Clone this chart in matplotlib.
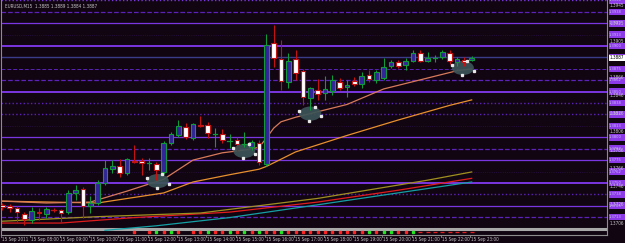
import matplotlib
matplotlib.use("Agg")
import matplotlib.pyplot as plt
import matplotlib.transforms as mtransforms
from matplotlib.patches import Rectangle, Ellipse

# ---- data (EURUSD M15, 15 Sep 2011) ----
symbol = "EURUSD,M15"
first_bar = -2          # bar index of the left-most candle (07:00)

bar_open = [1.3726, 1.3725, 1.3723, 1.3716, 1.3709, 1.3718, 1.3716, 1.3720, 1.3720, 1.3718,
            1.3739, 1.3743, 1.3725, 1.3728, 1.3750, 1.3765, 1.3768, 1.3761, 1.3774, 1.3774,
            1.3772, 1.3771, 1.3762, 1.3794, 1.3803, 1.3811, 1.3799, 1.3814, 1.3814, 1.3804,
            1.3804, 1.3796, 1.3797, 1.3793, 1.3789, 1.3794, 1.3771, 1.3903, 1.3886, 1.3861,
            1.3886, 1.3873, 1.3843, 1.3852, 1.3849, 1.3851, 1.3861, 1.3855, 1.3862, 1.3858,
            1.3868, 1.3863, 1.3865, 1.3878, 1.3883, 1.3879, 1.3884, 1.3892, 1.3884, 1.3887,
            1.3888, 1.3892, 1.3883, 1.3885, 1.3885]
bar_high = [1.3728, 1.3727, 1.3725, 1.3718, 1.3724, 1.3722, 1.3724, 1.3722, 1.3721, 1.3742,
            1.3748, 1.3746, 1.3736, 1.3753, 1.3775, 1.3775, 1.3776, 1.3777, 1.3792, 1.3777,
            1.3777, 1.3773, 1.3796, 1.3806, 1.3819, 1.3816, 1.3816, 1.3823, 1.3817, 1.3810,
            1.3809, 1.3804, 1.3800, 1.3806, 1.3797, 1.3797, 1.3913, 1.3923, 1.3907, 1.3892,
            1.3896, 1.3875, 1.3855, 1.3864, 1.3867, 1.3868, 1.3865, 1.3863, 1.3866, 1.3872,
            1.3874, 1.3874, 1.3887, 1.3885, 1.3885, 1.3887, 1.3896, 1.3896, 1.3894, 1.3890,
            1.3896, 1.3896, 1.3888, 1.3888, 1.3889]
bar_low = [1.3720, 1.3718, 1.3707, 1.3704, 1.3706, 1.3709, 1.3712, 1.3718, 1.3707, 1.3716,
           1.3731, 1.3712, 1.3717, 1.3726, 1.3748, 1.3761, 1.3757, 1.3759, 1.3772, 1.3759,
           1.3764, 1.3753, 1.3760, 1.3792, 1.3800, 1.3798, 1.3797, 1.3811, 1.3799, 1.3789,
           1.3794, 1.3788, 1.3784, 1.3789, 1.3786, 1.3770, 1.3769, 1.3877, 1.3852, 1.3854,
           1.3863, 1.3835, 1.3830, 1.3841, 1.3841, 1.3846, 1.3852, 1.3844, 1.3856, 1.3854,
           1.3861, 1.3860, 1.3863, 1.3876, 1.3876, 1.3874, 1.3882, 1.3882, 1.3882, 1.3883,
           1.3886, 1.3880, 1.3878, 1.3878, 1.3884]
bar_close = [1.3724, 1.3723, 1.3718, 1.3710, 1.3719, 1.3717, 1.3721, 1.37198, 1.3717, 1.3739,
             1.3742, 1.3725, 1.3728, 1.3750, 1.3766, 1.3768, 1.3761, 1.3776, 1.3773, 1.3772,
             1.3772, 1.3764, 1.3794, 1.3804, 1.3812, 1.3800, 1.3815, 1.3812, 1.3805, 1.3804,
             1.3797, 1.3796, 1.3793, 1.3793, 1.3795, 1.3773, 1.3901, 1.3887, 1.3862, 1.3884,
             1.3871, 1.3844, 1.3854, 1.3848, 1.3853, 1.3863, 1.3854, 1.3857, 1.3858, 1.3867,
             1.3864, 1.3872, 1.3877, 1.3883, 1.3878, 1.3884, 1.3892, 1.3884, 1.3887, 1.3887,
             1.3894, 1.3884, 1.3886, 1.3883, 1.3887]

# moving averages, read at a few bars each
fast_ma_bars = [-2, 4, 10, 15, 20, 24, 28, 31, 33, 34, 35, 36, 38, 41, 45, 50, 55, 60, 62]
fast_ma = [1.3730, 1.3728, 1.3729, 1.3741, 1.3754, 1.3775, 1.3783, 1.3786, 1.3789, 1.3799,
           1.3810, 1.3817, 1.3822, 1.3828, 1.3836, 1.3853, 1.3863, 1.3873, 1.3875]
mid_ma_bars = [-2, 11, 20, 24, 29, 33, 34, 38, 45, 52, 59, 62]
mid_ma = [1.3730, 1.3728, 1.3739, 1.3751, 1.3759, 1.3765, 1.3768, 1.3784, 1.3802, 1.3819,
          1.3835, 1.3841]
slow_ma1_bars = [-2, 11, 25, 41, 56, 62]
slow_ma1 = [1.3708, 1.3713, 1.3717, 1.3733, 1.3753, 1.3762]
slow_ma2_bars = [-2, 6, 16, 29, 41, 52, 62]
slow_ma2 = [1.3706, 1.3706, 1.3712, 1.3718, 1.3729, 1.3742, 1.3755]
slow_ma3_bars = [12, 19, 29, 41, 62]
slow_ma3 = [1.3698, 1.3703, 1.3712, 1.3726, 1.3751]

# signal row along the bottom of the chart
signal_up_bars = [19, 21, 26, 29, 31, 33, 36, 48, 50, 51, 54]
signal_down_bars = [16, 18, 20, 22, 24, 25, 27, 28, 30, 32, 34, 35, 37, 38, 39, 40, 41, 42,
                    43, 44, 45, 46, 47, 49, 52, 53]
signal_flat_bars = [55, 56, 57, 58, 59, 60, 61, 62]
signal_price = 1.36962

# horizontal level lines
levels = [1.3950, 1.39375, 1.3925, 1.39125, 1.3900, 1.38875, 1.3875, 1.38625, 1.3850,
          1.38375, 1.3825, 1.38125, 1.3800, 1.37875, 1.3775, 1.37625, 1.3750, 1.37375,
          1.3725, 1.37125, 1.3700]

# ellipse objects: centre bar, centre price
ellipse_bars = [19.2, 31.0, 40.0, 60.8]
ellipse_prices = [1.3752, 1.3785, 1.3826, 1.3876]

price_ticks = [1.3945, 1.3925, 1.3905, 1.3866, 1.3846, 1.3826, 1.3806, 1.3786, 1.3766,
               1.3746, 1.3726, 1.3706]
bid = 1.3887
header = "EURUSD,M15  1.3885 1.3889 1.3884 1.3887"

time_labels = ["15 Sep 2011", "15 Sep 08:00", "15 Sep 09:00", "15 Sep 10:00", "15 Sep 11:00",
               "15 Sep 12:00", "15 Sep 13:00", "15 Sep 14:00", "15 Sep 15:00", "15 Sep 16:00",
               "15 Sep 17:00", "15 Sep 18:00", "15 Sep 19:00", "15 Sep 20:00", "15 Sep 21:00",
               "15 Sep 22:00", "15 Sep 23:00"]
time_label_bars = [-2, 2, 6, 10, 14, 18, 22, 26, 30, 34, 38, 42, 46, 50, 54, 58, 62]

# ---- styling ----
BG = "#120512"
AXIS = "#8c8c8c"
TXT = "#c4c4c4"
BULL_FILL = "#33249a"
BULL_EDGE = "#109a3a"
BEAR_FILL = "#ffffff"
BEAR_EDGE = "#c41212"
PURPLE = "#7a36e0"
PURPLE_DK = "#5a22b8"
FS = 3.3

level_styles = [
    (":", PURPLE, 1.0), ("--", PURPLE_DK, 0.9), ("-", PURPLE, 0.9), (":", "#2a1048", 0.6),
    ("-", PURPLE, 1.4), ("-", "#3a3c8a", 1.0), ((0, (4, 2)), PURPLE_DK, 0.7), ("--", PURPLE_DK, 0.9),
    ("-", PURPLE, 1.4), (":", PURPLE_DK, 1.0), (":", PURPLE_DK, 1.0), (":", "#2a1048", 0.6),
    ("-", PURPLE, 0.9), ("--", PURPLE_DK, 0.9), ("-", PURPLE, 0.9), (":", "#2a1048", 0.6),
    ("-", PURPLE, 1.4), (":", PURPLE_DK, 1.0), ("-", PURPLE, 0.9), ("--", PURPLE_DK, 0.9),
    ("-", "#a8a8a8", 2.2),
]

plt.rcParams["font.family"] = ["DejaVu Sans"]
plt.rcParams["font.stretch"] = "condensed"
W, H = 625, 243
fig = plt.figure(figsize=(W / 100, H / 100), dpi=100, facecolor=BG)
ax = fig.add_axes([1 / W, 8 / H, 606 / W, 235 / H], facecolor=BG)

px_per_bar = 7.35
ax.set_xlim(first_bar - 1.3 / px_per_bar, first_bar + 606 / px_per_bar)
ax.set_ylim(1.36929, 1.39505)

for lvl, (ls, col, lw) in zip(levels, level_styles):
    ax.axhline(lvl, color=col, ls=ls, lw=lw, zorder=1)

# moving averages
ax.plot(slow_ma3_bars, slow_ma3, color="#14a0a4", lw=0.9, zorder=2)
ax.plot(slow_ma2_bars, slow_ma2, color="#e01c1c", lw=0.9, zorder=2)
ax.plot(slow_ma1_bars, slow_ma1, color="#a09020", lw=0.9, zorder=2)
ax.plot(mid_ma_bars, mid_ma, color="#e8902e", lw=0.9, zorder=2)
ax.plot(fast_ma_bars, fast_ma, color="#d87a5a", lw=0.9, zorder=2)

# ellipses
for eb, ep in zip(ellipse_bars, ellipse_prices):
    ew, eh = 3.0, 0.00155
    ax.add_patch(Ellipse((eb, ep), ew, eh, facecolor="#3c5457", edgecolor="none",
                         alpha=0.92, zorder=3))
    ax.plot([eb - 0.5 * ew, eb - 0.05 * ew, eb + 0.5 * ew, eb + 0.2 * ew],
            [ep + 0.2 * eh, ep - 0.5 * eh, ep - 0.2 * eh, ep + 0.5 * eh],
            ls="none", marker="s", ms=1.4, color="#e8e8e8", zorder=6)

# candles
bw = 0.62
for i, (o, h, l, c) in enumerate(zip(bar_open, bar_high, bar_low, bar_close)):
    x = first_bar + i
    bull = c >= o
    edge = BULL_EDGE if bull else BEAR_EDGE
    ax.plot([x, x], [l, h], color=edge, lw=0.8, zorder=4, solid_capstyle="butt")
    if abs(c - o) < 0.00004:
        ax.plot([x - bw / 2, x + bw / 2], [o, o], color=edge, lw=0.9, zorder=5)
    else:
        ax.add_patch(Rectangle((x - bw / 2, min(o, c)), bw, abs(c - o),
                               facecolor=BULL_FILL if bull else BEAR_FILL,
                               edgecolor=edge, lw=0.8, zorder=5))

# signal row
ax.plot(signal_up_bars, [signal_price] * len(signal_up_bars), ls="none", marker="s",
        ms=2.0, color="#22e622", zorder=6)
ax.plot(signal_down_bars, [signal_price] * len(signal_down_bars), ls="none", marker="s",
        ms=2.0, color="#ff2424", zorder=6)
ax.plot(signal_flat_bars, [signal_price] * len(signal_flat_bars), ls="none", marker="_",
        ms=3.0, mew=0.9, color="#e02020", zorder=6)

for s in ax.spines.values():
    s.set_color(AXIS)
    s.set_linewidth(0.8)
ax.spines["top"].set_visible(False)
ax.set_xticks([])
ax.set_yticks([])

# right price scale
tr = mtransforms.blended_transform_factory(ax.transAxes, ax.transData)
box_h = 0.00072
for lvl in levels[:-1]:
    ax.add_patch(Rectangle((1.0025, lvl - box_h / 2), 0.029, box_h, transform=tr,
                           facecolor="#8c3ae8", edgecolor="none", clip_on=False, zorder=7))
    ax.text(1.0035, lvl, f"{lvl:.4f}", transform=tr, fontsize=FS - 0.3, color="#cdb8ff",
            va="center", ha="left", clip_on=False, zorder=8)
for p in price_ticks:
    ax.text(1.0035, p, f"{p:.4f}", transform=tr, fontsize=FS, color=TXT,
            va="center", ha="left", clip_on=False, zorder=9)
ax.add_patch(Rectangle((1.0025, bid - box_h / 2), 0.029, box_h, transform=tr,
                       facecolor="#ffffff", edgecolor="none", clip_on=False, zorder=10))
ax.text(1.0035, bid, f"{bid:.4f}", transform=tr, fontsize=FS, color="#000000",
        va="center", ha="left", clip_on=False, zorder=11)

# time labels
trx = mtransforms.blended_transform_factory(ax.transData, ax.transAxes)
for b, lab in zip(time_label_bars, time_labels):
    ax.text(b - 0.1, -0.018, lab, transform=trx, fontsize=FS, color=TXT,
            va="center", ha="left", clip_on=False)
    ax.plot([b - 0.2, b - 0.2], [0, -0.01], transform=trx, color=AXIS, lw=0.6, clip_on=False)

ax.text(0.006, 0.975, header, transform=ax.transAxes, fontsize=FS, color=TXT,
        va="center", ha="left")

fig.savefig("out.png", dpi=100, facecolor=BG)
